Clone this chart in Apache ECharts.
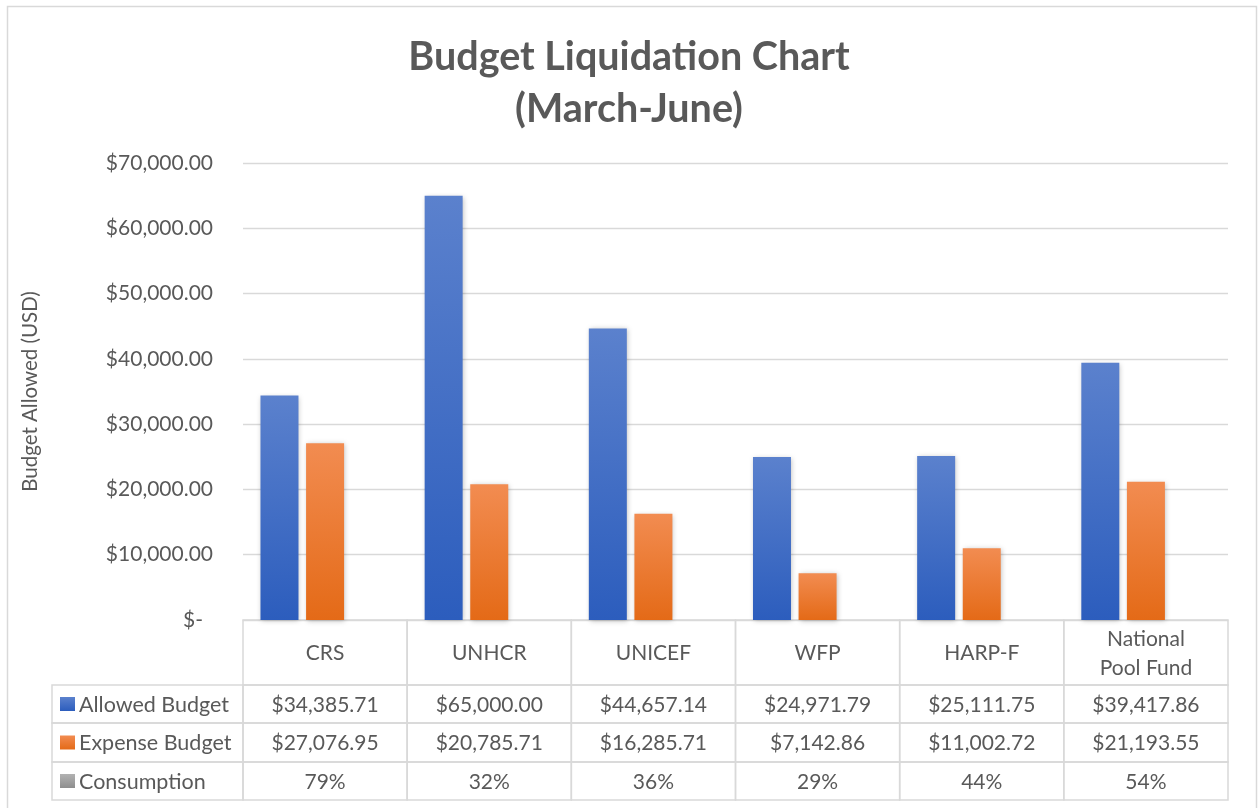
<!DOCTYPE html>
<html lang="en">
<head>
    <meta charset="UTF-8">
    <title>Budget Liquidation Chart</title>
    <script src="https://cdn.jsdelivr.net/npm/echarts@6/dist/echarts.min.js"></script>
    <style>
        html, body { margin: 0; padding: 0; background: #fff; }
        #chart1 { width: 1258px; height: 808px; }
    </style>
</head>
<body>
<div id="chart1"></div>
<script type="text/javascript">

    // chart data
    var categories = ['CRS', 'UNHCR', 'UNICEF', 'WFP', 'HARP-F', 'National\nPool Fund'];
    var allowedBudget = [34385.71, 65000.00, 44657.14, 24971.79, 25111.75, 39417.86];
    var expenseBudget = [27076.95, 20785.71, 16285.71, 7142.86, 11002.72, 21193.55];
    var consumption = [0.79, 0.32, 0.36, 0.29, 0.44, 0.54];
    var rowNames = ['Allowed Budget', 'Expense Budget', 'Consumption'];

    // layout of the data table under the plot
    var rowEdges = [0, 65, 103, 142, 180];
    var labelColWidth = 191;
    var textColor = '#595959';
    var lineColor = '#d9d9d9';
    var font = 'Lato, "Noto Sans", sans-serif';

    function grad(top, bottom) {
        return new echarts.graphic.LinearGradient(0, 0, 0, 1, [
            {offset: 0, color: top},
            {offset: 1, color: bottom}
        ]);
    }
    var fills = [grad('#5b81cd', '#2c5dbd'), grad('#f28c51', '#e46a17'), grad('#b2b2b2', '#8e8e8e')];

    function money(v) {
        return '$' + v.toLocaleString('en-US', {minimumFractionDigits: 2, maximumFractionDigits: 2});
    }

    function cellText(c, r) {
        if (r === 0) return categories[c];
        if (r === 1) return money(allowedBudget[c]);
        if (r === 2) return money(expenseBudget[c]);
        return Math.round(consumption[c] * 100) + '%';
    }

    var cells = [];
    for (var r = 0; r < 4; r++) {
        for (var c = 0; c < categories.length; c++) {
            cells.push([c, r]);
        }
    }
    var labelCells = [[0, 1], [0, 2], [0, 3]];

    function barSeries(name, data, idx) {
        return {
            name: name,
            type: 'bar',
            data: data,
            barWidth: 38,
            barGap: '20%',
            itemStyle: {
                color: fills[idx],
                shadowBlur: 5,
                shadowColor: 'rgba(0,0,0,0.25)',
                shadowOffsetX: 1,
                shadowOffsetY: 1
            },
            silent: true
        };
    }

    var myChart1 = echarts.init(document.getElementById('chart1'));
    myChart1.setOption({
        animation: false,
        title: {
            text: 'Budget Liquidation Chart\n(March-June)',
            left: 'center',
            top: 26,
            textStyle: {
                fontFamily: font,
                fontSize: 39.5,
                fontWeight: 'bold',
                color: textColor,
                lineHeight: 52
            }
        },
        graphic: [{
            type: 'rect',
            shape: {x: 7.5, y: 6.5, width: 1249, height: 840},
            style: {fill: 'none', stroke: lineColor, lineWidth: 1.5},
            z: -10
        }],
        grid: [
            {left: 243, right: 30, top: 163, bottom: 188, outerBoundsMode: 'none'},
            {left: 243, right: 30, top: 620, height: 180, outerBoundsMode: 'none'}
        ],
        xAxis: [
            {
                type: 'category',
                data: categories,
                gridIndex: 0,
                axisLine: {lineStyle: {color: lineColor, width: 1}},
                axisTick: {show: false},
                axisLabel: {show: false}
            },
            {
                type: 'category',
                data: categories,
                gridIndex: 1,
                show: false
            }
        ],
        yAxis: [
            {
                type: 'value',
                gridIndex: 0,
                min: 0,
                max: 70000,
                interval: 10000,
                name: 'Budget Allowed (USD)',
                nameLocation: 'middle',
                nameGap: 202,
                nameTextStyle: {fontFamily: font, fontSize: 20.5, color: textColor},
                axisLine: {show: false},
                axisTick: {show: false},
                axisLabel: {
                    margin: 30,
                    fontFamily: font,
                    fontSize: 21,
                    color: textColor,
                    formatter: function (v) {
                        return v === 0 ? '{z|$-}' : money(v);
                    },
                    rich: {
                        z: {fontFamily: font, fontSize: 21, color: textColor, padding: [0, 10, 0, 0]}
                    }
                },
                splitLine: {lineStyle: {color: lineColor, width: 1.3}}
            },
            {
                type: 'value',
                gridIndex: 1,
                min: 0,
                max: 180,
                inverse: true,
                show: false
            }
        ],
        series: [
            barSeries(rowNames[0], allowedBudget, 0),
            barSeries(rowNames[1], expenseBudget, 1),
            barSeries(rowNames[2], consumption, 2),
            {
                type: 'custom',
                xAxisIndex: 1,
                yAxisIndex: 1,
                clip: false,
                silent: true,
                data: cells,
                renderItem: function (params, api) {
                    var c = api.value(0), r = api.value(1);
                    var top = api.coord([c, rowEdges[r]]);
                    var bot = api.coord([c, rowEdges[r + 1]]);
                    var w = api.size([1, 0])[0];
                    var x0 = top[0] - w / 2;
                    return {
                        type: 'group',
                        children: [{
                            type: 'rect',
                            shape: {x: x0, y: top[1], width: w, height: bot[1] - top[1]},
                            style: {fill: 'none', stroke: lineColor, lineWidth: 1.5}
                        }, {
                            type: 'text',
                            style: {
                                text: cellText(c, r),
                                x: top[0],
                                y: (top[1] + bot[1]) / 2 + 1,
                                align: 'center',
                                verticalAlign: 'middle',
                                fontFamily: font,
                                fontSize: 21,
                                lineHeight: 29,
                                fill: textColor
                            }
                        }]
                    };
                }
            },
            {
                type: 'custom',
                xAxisIndex: 1,
                yAxisIndex: 1,
                clip: false,
                silent: true,
                data: labelCells,
                renderItem: function (params, api) {
                    var r = api.value(1);
                    var top = api.coord([0, rowEdges[r]]);
                    var bot = api.coord([0, rowEdges[r + 1]]);
                    var w = api.size([1, 0])[0];
                    var x0 = top[0] - w / 2 - labelColWidth;
                    var mid = (top[1] + bot[1]) / 2;
                    return {
                        type: 'group',
                        children: [{
                            type: 'rect',
                            shape: {x: x0, y: top[1], width: labelColWidth, height: bot[1] - top[1]},
                            style: {fill: 'none', stroke: lineColor, lineWidth: 1.5}
                        }, {
                            type: 'rect',
                            shape: {x: x0 + 8, y: mid - 7, width: 15, height: 14},
                            style: {fill: fills[r - 1]}
                        }, {
                            type: 'text',
                            style: {
                                text: rowNames[r - 1],
                                x: x0 + 27,
                                y: mid + 1,
                                align: 'left',
                                verticalAlign: 'middle',
                                fontFamily: font,
                                fontSize: 21.5,
                                fill: textColor
                            }
                        }]
                    };
                }
            }
        ]
    });

</script>
</body>
</html>
